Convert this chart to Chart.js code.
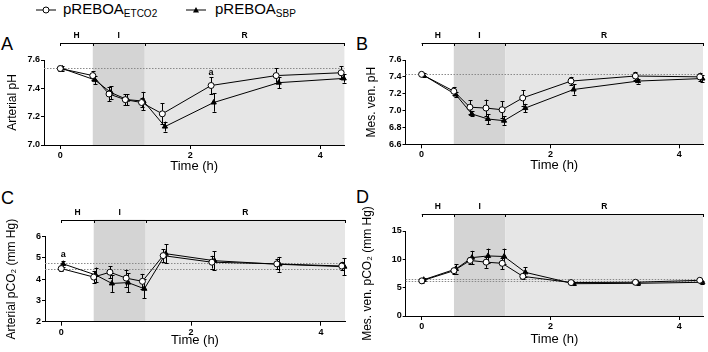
<!DOCTYPE html>
<html><head><meta charset="utf-8">
<script src="https://cdn.jsdelivr.net/npm/chart.js@4.4.1/dist/chart.umd.min.js"></script>
<style>
body{margin:0;background:#fff;width:708px;height:352px;position:relative;overflow:hidden;font-family:"Liberation Sans",Arial,sans-serif;color:#000;}
canvas{position:absolute;}
.letter{position:absolute;font-size:18px;line-height:18px;}
.leg{position:absolute;font-size:15px;line-height:16px;top:1px;white-space:nowrap;}
.leg sub{font-size:10px;vertical-align:-3px;}
svg{position:absolute;}
</style></head><body>
<svg style="left:36px;top:4px" width="20" height="12"><line x1="0" y1="6" x2="20" y2="6" stroke="#000" stroke-width="1"/><circle cx="10" cy="6" r="3" fill="#fff" stroke="#000" stroke-width="1"/></svg>
<div class="leg" style="left:63px">pREBOA<sub>ETCO2</sub></div>
<svg style="left:186px;top:4px" width="20" height="12"><line x1="0" y1="6" x2="20" y2="6" stroke="#000" stroke-width="1"/><polygon points="10,3 13,8.5 7,8.5" fill="#000"/></svg>
<div class="leg" style="left:215px">pREBOA<sub>SBP</sub></div>
<div class="letter" style="left:1px;top:35px">A</div>
<div class="letter" style="left:356px;top:35px">B</div>
<div class="letter" style="left:1px;top:189px">C</div>
<div class="letter" style="left:356px;top:188px">D</div>
<canvas id="cA" width="354" height="176" style="left:0;top:0"></canvas>
<canvas id="cB" width="354" height="176" style="left:354px;top:0"></canvas>
<canvas id="cC" width="354" height="176" style="left:0;top:176px"></canvas>
<canvas id="cD" width="354" height="176" style="left:354px;top:176px"></canvas>
<script>
// ---- data ----
const timesETCO2 = [0, 0.5, 0.75, 1.0, 1.25, 1.57, 2.32, 3.32, 4.32];
const timesSBP   = [0.03, 0.53, 0.78, 1.03, 1.28, 1.61, 2.36, 3.36, 4.36];
const xTickLabels = [0, 2, 4];
const phaseBounds = [0, 0.5, 1.3];
const phaseLabels = ["H", "I", "R"];

const artPH_ETCO2     = [7.54, 7.49, 7.36, 7.32, 7.30, 7.22, 7.42, 7.49, 7.51];
const artPH_ETCO2_err = [0.02, 0.03, 0.05, 0.04, 0.035, 0.075, 0.06, 0.05, 0.045];
const artPH_SBP       = [7.54, 7.46, 7.37, 7.32, 7.31, 7.13, 7.30, 7.44, 7.47];
const artPH_SBP_err   = [0.02, 0.03, 0.045, 0.04, 0.065, 0.035, 0.065, 0.04, 0.03];
const artPH_ref = [7.54];
const artPH_ticks = [7.0, 7.2, 7.4, 7.6];

const venPH_ETCO2     = [7.43, 7.23, 7.04, 7.03, 7.01, 7.15, 7.35, 7.41, 7.40];
const venPH_ETCO2_err = [0.02, 0.05, 0.08, 0.10, 0.10, 0.09, 0.05, 0.05, 0.05];
const venPH_SBP       = [7.42, 7.19, 6.96, 6.90, 6.88, 7.03, 7.25, 7.35, 7.38];
const venPH_SBP_err   = [0.02, 0.03, 0.03, 0.06, 0.05, 0.05, 0.06, 0.03, 0.04];
const venPH_ref = [7.43];
const venPH_ticks = [6.6, 6.8, 7.0, 7.2, 7.4, 7.6];

const artCO2_ETCO2     = [4.50, 4.10, 4.33, 4.05, 3.90, 5.11, 4.80, 4.72, 4.62];
const artCO2_ETCO2_err = [0.10, 0.27, 0.28, 0.40, 0.35, 0.30, 0.30, 0.25, 0.20];
const artCO2_SBP       = [4.72, 4.20, 3.80, 3.84, 3.55, 5.20, 4.87, 4.70, 4.59];
const artCO2_SBP_err   = [0.15, 0.35, 0.40, 0.45, 0.45, 0.45, 0.45, 0.35, 0.40];
const artCO2_ref = [4.75, 4.50];
const artCO2_ticks = [2, 3, 4, 5, 6];

const venCO2_ETCO2     = [6.2, 8.0, 9.8, 9.5, 9.3, 7.0, 5.9, 5.95, 6.3];
const venCO2_ETCO2_err = [0.3, 0.5, 0.6, 1.0, 1.0, 0.4, 0.3, 0.3, 0.3];
const venCO2_SBP       = [6.4, 8.3, 10.3, 10.6, 10.5, 7.7, 5.7, 5.77, 5.95];
const venCO2_SBP_err   = [0.3, 0.8, 1.2, 1.3, 1.4, 0.9, 0.3, 0.3, 0.3];
const venCO2_ref = [6.6, 6.2];
const venCO2_ticks = [0, 5, 10, 15];

const X_MIN = -0.25, X_MAX = 4.37;
const FONT = '"Liberation Sans", Arial, sans-serif';

function makePanel(id, p) {
  const deco = {
    id: 'deco',
    beforeDraw(chart) {
      const {ctx, chartArea: a, scales: {x}} = chart;
      const bY = a.top - 17;
      const xs = phaseBounds.map(v => x.getPixelForValue(v)).concat([a.right]);
      ctx.save();
      ctx.fillStyle = '#d4d4d4';
      ctx.fillRect(xs[1], bY, xs[2] - xs[1], a.bottom - bY);
      ctx.fillStyle = '#e6e6e6';
      ctx.fillRect(xs[2], bY, xs[3] - xs[2], a.bottom - bY);
      ctx.strokeStyle = '#000'; ctx.lineWidth = 1;
      ctx.beginPath();
      ctx.moveTo(xs[0], Math.round(bY) + 0.5); ctx.lineTo(xs[3], Math.round(bY) + 0.5);
      xs.forEach(px => { ctx.moveTo(Math.round(px) + 0.5, Math.round(bY)); ctx.lineTo(Math.round(px) + 0.5, Math.round(bY) + 3); });
      ctx.stroke();
      ctx.fillStyle = '#000';
      ctx.font = 'bold 8.5px ' + FONT;
      ctx.textAlign = 'center'; ctx.textBaseline = 'bottom';
      phaseLabels.forEach((t, i) => ctx.fillText(t, (xs[i] + xs[i + 1]) / 2, bY - 3));
      ctx.restore();
    },
    beforeDatasetsDraw(chart) {
      const {ctx, chartArea: a, scales: {x, y}} = chart;
      ctx.save();
      ctx.strokeStyle = '#8a8a8a'; ctx.lineWidth = 1; ctx.setLineDash([1.5, 1.5]);
      p.ref.forEach(v => {
        const py = Math.round(y.getPixelForValue(v)) + 0.5;
        ctx.beginPath(); ctx.moveTo(a.left, py); ctx.lineTo(a.right, py); ctx.stroke();
      });
      ctx.setLineDash([]);
      ctx.strokeStyle = '#000';
      [[timesETCO2, p.e, p.eErr], [timesSBP, p.s, p.sErr]].forEach(([t, v, e]) => {
        ctx.beginPath();
        t.forEach((tt, i) => {
          const px = Math.round(x.getPixelForValue(tt)) + 0.5;
          const y1 = y.getPixelForValue(v[i] + e[i]), y2 = y.getPixelForValue(v[i] - e[i]);
          ctx.moveTo(px, y1); ctx.lineTo(px, y2);
          ctx.moveTo(px - 2, Math.round(y1) + 0.5); ctx.lineTo(px + 2, Math.round(y1) + 0.5);
          ctx.moveTo(px - 2, Math.round(y2) + 0.5); ctx.lineTo(px + 2, Math.round(y2) + 0.5);
        });
        ctx.stroke();
      });
      ctx.restore();
    },
    afterDatasetsDraw(chart) {
      const {ctx, scales: {x, y}} = chart;
      ctx.save();
      ctx.fillStyle = '#000'; ctx.font = 'bold 9px ' + FONT;
      ctx.textAlign = 'center'; ctx.textBaseline = 'middle';
      (p.ann || []).forEach(([tx, ty, s]) => ctx.fillText(s, x.getPixelForValue(tx), y.getPixelForValue(ty)));
      ctx.restore();
    }
  };
  const tickFont = {family: FONT, size: 9, weight: 'bold'};
  new Chart(document.getElementById(id), {
    type: 'line',
    data: {
      datasets: [
        {data: timesETCO2.map((t, i) => ({x: t, y: p.e[i]})), borderColor: '#000', borderWidth: 1,
         pointStyle: 'circle', pointRadius: 3, pointBackgroundColor: '#fff', pointBorderColor: '#000', pointBorderWidth: 1, clip: false},
        {data: timesSBP.map((t, i) => ({x: t, y: p.s[i]})), borderColor: '#000', borderWidth: 1,
         pointStyle: 'triangle', pointRadius: 3, pointBackgroundColor: '#000', pointBorderColor: '#000', pointBorderWidth: 1, clip: false}
      ]
    },
    options: {
      responsive: false, animation: false, devicePixelRatio: 1,
      layout: {padding: {top: p.padTop, right: p.padRight, left: 0, bottom: 0}},
      plugins: {legend: {display: false}, tooltip: {enabled: false}},
      scales: {
        x: {
          type: 'linear', min: X_MIN, max: X_MAX,
          afterBuildTicks: s => { s.ticks = xTickLabels.map(v => ({value: v})); },
          afterFit: s => { s.height = p.xH; },
          grid: {drawOnChartArea: false, drawTicks: true, tickLength: 4, color: '#000'},
          border: {display: true, color: '#000', width: 1},
          ticks: {font: tickFont, color: '#000', padding: 1, maxRotation: 0},
          title: {display: true, text: 'Time (h)', font: {family: FONT, size: 13}, color: '#000', padding: {top: 0, bottom: p.xTitlePad}}
        },
        y: {
          type: 'linear', min: p.ticks[0], max: p.ticks[p.ticks.length - 1],
          afterBuildTicks: s => { s.ticks = p.ticks.map(v => ({value: v})); },
          afterFit: s => { s.width = p.yW; },
          grid: {drawOnChartArea: false, drawTicks: true, tickLength: 3, color: '#000'},
          border: {display: true, color: '#000', width: 1},
          ticks: {font: tickFont, color: '#000', padding: 1, callback: v => p.fmt(v)},
          title: {display: true, text: p.title, font: {family: FONT, size: 12}, color: '#000', padding: {top: p.yTitlePad, bottom: 0}}
        }
      }
    },
    plugins: [deco]
  });
}

makePanel('cA', {e: artPH_ETCO2, eErr: artPH_ETCO2_err, s: artPH_SBP, sErr: artPH_SBP_err, ref: artPH_ref,
  ticks: artPH_ticks, fmt: v => v.toFixed(1), title: 'Arterial pH', yW: 44, padTop: 60, padRight: 9.6, xH: 31,
  xTitlePad: 1.5, yTitlePad: 5, ann: [[2.32, 7.51, 'a']]});
makePanel('cB', {e: venPH_ETCO2, eErr: venPH_ETCO2_err, s: venPH_SBP, sErr: venPH_SBP_err, ref: venPH_ref,
  ticks: venPH_ticks, fmt: v => v.toFixed(1), title: 'Mes. ven. pH', yW: 51.5, padTop: 60, padRight: 2.2, xH: 31.7,
  xTitlePad: 2.5, yTitlePad: 10});
makePanel('cC', {e: artCO2_ETCO2, eErr: artCO2_ETCO2_err, s: artCO2_SBP, sErr: artCO2_SBP_err, ref: artCO2_ref,
  ticks: artCO2_ticks, fmt: v => String(v), title: 'Arterial pCO\u2082 (mm Hg)', yW: 45, padTop: 60.7, padRight: 9, xH: 30.3,
  xTitlePad: 4, yTitlePad: 4.5, ann: [[0.03, 5.14, 'a']]});
makePanel('cD', {e: venCO2_ETCO2, eErr: venCO2_ETCO2_err, s: venCO2_SBP, sErr: venCO2_SBP_err, ref: venCO2_ref,
  ticks: venCO2_ticks, fmt: v => String(v), title: 'Mes. ven. pCO\u2082 (mm Hg)', yW: 51.7, padTop: 55, padRight: 2, xH: 36,
  xTitlePad: 4.9, yTitlePad: 6});
</script>
</body></html>
